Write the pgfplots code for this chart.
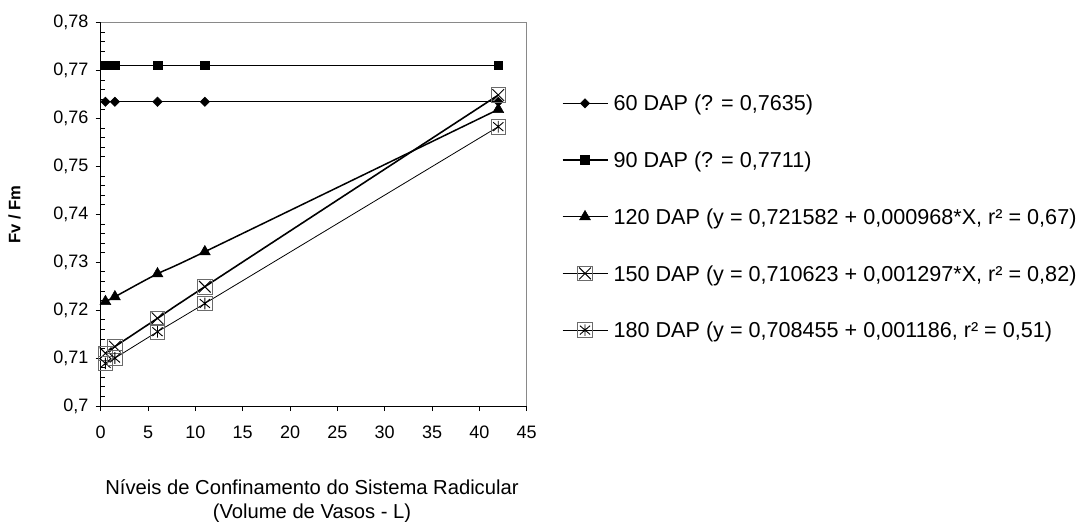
\documentclass[border=0pt]{standalone}
\usepackage{fontspec}
\setmainfont{Liberation Sans}
\usepackage{pgfplots}
\pgfplotsset{compat=1.18}
\definecolor{boxgray}{gray}{0.42}

\pgfdeclareplotmark{boxx}{%
  \pgfsetlinewidth{0.9pt}%
  \pgfsetstrokecolor{boxgray}%
  \pgfpathrectangle{\pgfqpoint{-\pgfplotmarksize}{-\pgfplotmarksize}}{\pgfqpoint{2\pgfplotmarksize}{2\pgfplotmarksize}}%
  \pgfusepathqstroke
  \pgfsetstrokecolor{black}%
  \pgfpathmoveto{\pgfqpoint{-0.8\pgfplotmarksize}{-0.8\pgfplotmarksize}}%
  \pgfpathlineto{\pgfqpoint{0.8\pgfplotmarksize}{0.8\pgfplotmarksize}}%
  \pgfpathmoveto{\pgfqpoint{-0.8\pgfplotmarksize}{0.8\pgfplotmarksize}}%
  \pgfpathlineto{\pgfqpoint{0.8\pgfplotmarksize}{-0.8\pgfplotmarksize}}%
  \pgfusepathqstroke
}
\pgfdeclareplotmark{boxast}{%
  \pgfsetlinewidth{0.9pt}%
  \pgfsetstrokecolor{boxgray}%
  \pgfpathrectangle{\pgfqpoint{-\pgfplotmarksize}{-\pgfplotmarksize}}{\pgfqpoint{2\pgfplotmarksize}{2\pgfplotmarksize}}%
  \pgfusepathqstroke
  \pgfsetstrokecolor{black}%
  \pgfpathmoveto{\pgfqpoint{-0.7\pgfplotmarksize}{-0.6\pgfplotmarksize}}%
  \pgfpathlineto{\pgfqpoint{0.7\pgfplotmarksize}{0.6\pgfplotmarksize}}%
  \pgfpathmoveto{\pgfqpoint{-0.7\pgfplotmarksize}{0.6\pgfplotmarksize}}%
  \pgfpathlineto{\pgfqpoint{0.7\pgfplotmarksize}{-0.6\pgfplotmarksize}}%
  \pgfpathmoveto{\pgfqpoint{0pt}{-0.8\pgfplotmarksize}}%
  \pgfpathlineto{\pgfqpoint{0pt}{0.8\pgfplotmarksize}}%
  \pgfusepathqstroke
}

\begin{document}
\begin{tikzpicture}[font=\fontsize{18pt}{21pt}\selectfont]
\useasboundingbox (-100.7pt,-116pt) rectangle (984.3pt,406pt);
\begin{axis}[
  at={(0pt,0pt)}, anchor=south west,
  scale only axis, width=426pt, height=383.3pt,
  xmin=0, xmax=45, ymin=0.7, ymax=0.78,
  xtick={0,5,10,15,20,25,30,35,40,45},
  ytick={0.70,0.71,0.72,0.73,0.74,0.75,0.76,0.77,0.78},
  minor y tick num=4,
  axis x line*=bottom, axis y line*=left,
  axis line style={black, line width=1pt},
  tick align=outside,
  major tick length=5pt, minor tick length=4pt,
  minor y tick style={xshift=4pt},
  tick style={black, line width=0.8pt},
  xticklabel style={anchor=north, inner sep=0pt, yshift=-15pt},
  yticklabel style={anchor=east, inner sep=0pt, xshift=-7pt},
  /pgf/number format/fixed,
  /pgf/number format/use comma,
  /pgf/number format/precision=2,
  /pgf/number format/assume math mode=true,
  xlabel={Níveis de Confinamento do Sistema Radicular\\(Volume de Vasos - L)},
  every axis x label/.style={at={(axis description cs:0.496,-0.1912)}, anchor=north, inner sep=0pt, align=center, font=\fontsize{20.2pt}{24pt}\selectfont},
  ylabel={Fv / Fm},
  every axis y label/.style={at={(axis description cs:-0.2023,0.5)}, anchor=center, rotate=90, font=\fontsize{16.6pt}{20pt}\selectfont\bfseries},
  clip=false,
  legend cell align=left,
  legend style={at={(axis description cs:1.0822,0.4939)}, anchor=west, draw=none, fill=none,
    inner sep=0pt, outer sep=0pt, row sep=38.7pt, column sep=5.3pt,
    nodes={inner sep=0pt, text height=16.7pt, text depth=1.3pt},
    font=\fontsize{21.6pt}{25pt}\selectfont},
  legend image code/.code={\draw[mark repeat=2,mark phase=2,#1] plot coordinates {(0pt,0pt) (22.5pt,0pt) (45pt,0pt)};},
]
\draw[boxgray!80, line width=1.2pt] (rel axis cs:0,1) -- (rel axis cs:1,1) -- (rel axis cs:1,0);

\addplot[black, line width=1.2pt, mark=square*, mark size=3.3pt, mark options={solid, rotate=45, fill=black, line width=0.5pt}]
 coordinates {(0.5,0.7635) (1.5,0.7635) (6,0.7635) (11,0.7635) (42,0.7635)};
\addlegendentry{60 DAP (? = 0,7635)}

\addplot[black, line width=1.2pt, mark=square*, mark size=4.3pt, mark options={solid, fill=black, line width=0.5pt}]
 coordinates {(0.5,0.7711) (1.5,0.7711) (6,0.7711) (11,0.7711) (42,0.7711)};
\addlegendentry{90 DAP (? = 0,7711)}

\addplot[black, line width=1.5pt, smooth, mark=triangle*, mark size=6.3pt, mark options={solid, fill=black, line width=0.5pt}]
 coordinates {(0.5,0.7218) (1.5,0.7228) (6,0.7276) (11,0.7322) (42,0.7619)};
\addlegendentry{120 DAP (y = 0,721582 + 0,000968*X, r² = 0,67)}

\addplot[black, line width=1.6pt, smooth, mark=boxx, mark size=7.3pt]
 coordinates {(0.5,0.7110) (1.5,0.7124) (6,0.7183) (11,0.7249) (42,0.7649)};
\addlegendentry{150 DAP (y = 0,710623 + 0,001297*X, r² = 0,82)}

\addplot[black, line width=0.8pt, smooth, mark=boxast, mark size=7.3pt]
 coordinates {(0.5,0.7089) (1.5,0.7100) (6,0.7155) (11,0.7214) (42,0.7583)};
\addlegendentry{180 DAP (y = 0,708455 + 0,001186, r² = 0,51)}
\end{axis}
\end{tikzpicture}
\end{document}
